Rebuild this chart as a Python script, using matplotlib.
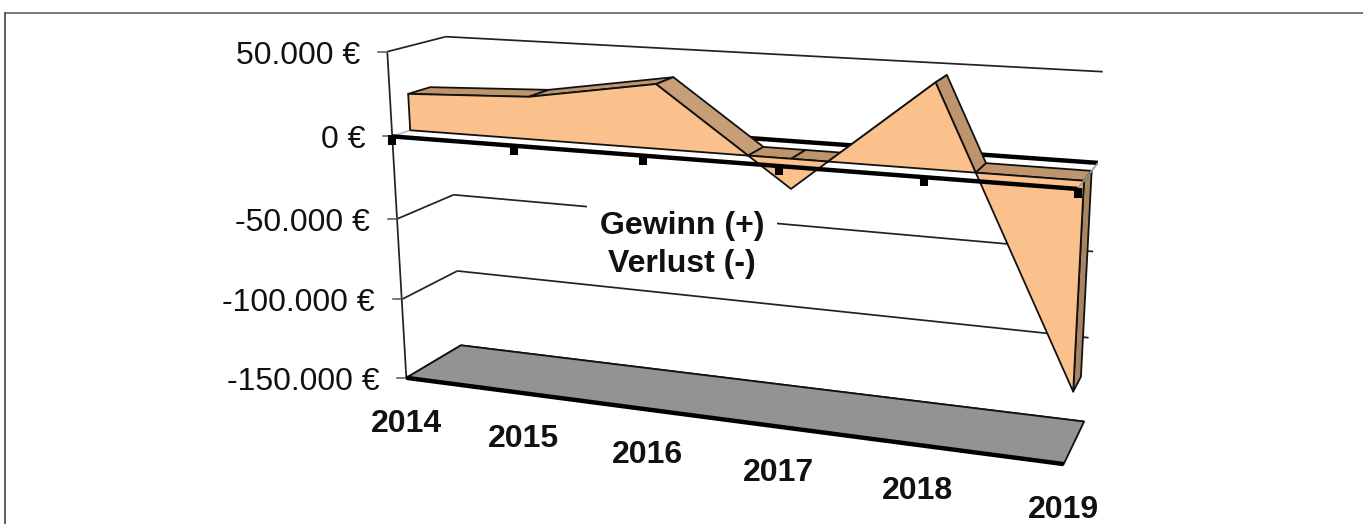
import numpy as np
import matplotlib
matplotlib.use('Agg')
import matplotlib.pyplot as plt

plt.rcParams['font.family'] = ['Liberation Sans', 'DejaVu Sans']

years = ['2014', '2015', '2016', '2017', '2018', '2019']
profit = [22000, 25000, 37000, -17000, 47000, -116000]
value_ticks = [50000, 0, -50000, -100000, -150000]
value_labels = ['50.000 €', '0 €', '-50.000 €', '-100.000 €', '-150.000 €']
title_lines = ['Gewinn (+)', 'Verlust (-)']

# reference points of the 3d box: (year index, value, depth) -> pixel
box_3d = [(0, 50000, 0), (0, 0, 0), (0, -50000, 0), (0, -100000, 0), (0, -150000, 0),
          (1, 0, 0), (2, 0, 0), (3, 0, 0), (4, 0, 0), (5, 0, 0), (5, -150000, 0),
          (0, 50000, 1), (0, -50000, 1), (0, -100000, 1), (0, -150000, 1),
          (5, 50000, 1), (5, 0, 1), (5, -50000, 1), (5, -100000, 1), (5, -150000, 1)]
box_px = [(387, 51), (393, 137), (398, 218), (402, 299), (405, 378),
          (514, 146), (642, 156), (779, 167), (923, 178), (1078, 189), (1065, 463),
          (446, 36), (453, 195), (458, 271), (461, 346),
          (1103, 71), (1098, 163), (1093, 252), (1088, 338), (1084, 421)]

rows, rhs = [], []
for (i, v, d), (px, py) in zip(box_3d, box_px):
    X = [i, v / 50000, d, 1]
    rows.append(X + [0, 0, 0, 0] + [-px * c for c in X[:3]])
    rows.append([0, 0, 0, 0] + X + [-py * c for c in X[:3]])
    rhs += [px, py]
h = np.linalg.lstsq(np.array(rows, float), np.array(rhs, float), rcond=None)[0]
P = np.append(h, 1).reshape(3, 4)


def project(i, v, d):
    p = P @ np.array([i, v / 50000, d, 1])
    return p[0] / p[2], p[1] / p[2]


def poly(ax, pts, color, z):
    xy = [project(*p) for p in pts]
    ax.fill(*zip(*xy), facecolor=color, edgecolor='#111111', lw=1.3, joinstyle='round', zorder=z)


def line(ax, a, b, color='#222222', lw=1.25, z=1):
    pa, pb = project(*a), project(*b)
    ax.plot([pa[0], pb[0]], [pa[1], pb[1]], color=color, lw=lw, zorder=z, solid_capstyle='butt')


fig = plt.figure(figsize=(13.63, 5.24), dpi=100)
ax = fig.add_axes([0, 0, 1, 1])
ax.set_xlim(0, 1363)
ax.set_ylim(524, 0)
ax.axis('off')

# outer frame
ax.plot([5, 1363], [13, 13], color='#707070', lw=1.3, zorder=1)
ax.plot([5, 5], [13, 524], color='#505050', lw=1.3, zorder=1)

# walls and gridlines
line(ax, (0, 50000, 0), (0, -150000, 0))
for v in value_ticks:
    if v == 0:
        continue
    line(ax, (0, v, 0), (0, v, 1))
    line(ax, (0, v, 1), (5, v, 1))
for v, lab in zip(value_ticks, value_labels):
    x0, y0 = project(0, v, 0)
    ax.plot([x0 - 9, x0], [y0, y0], color='#555555', lw=1.1, zorder=1)
    ax.text(x0 - 27, y0 + 4, lab, ha='right', va='center', fontsize=23, color='#111111')

# floor
poly(ax, [(0, -150000, 0), (5, -150000, 0), (5, -150000, 1), (0, -150000, 1)], '#939393', 2)
line(ax, (0, -150000, 0), (5, -150000, 0), color='black', lw=3.2, z=3)

# zero plane
line(ax, (0, 0, 1), (5, 0, 1), color='black', lw=3.2, z=2)
line(ax, (0, 0, 0), (0, 0, 1), color='#bbbbbb', lw=1.2, z=2)
line(ax, (5, 0, 0), (5, 0, 1), color='#999999', lw=1.2, z=6)

# area solid, split where the line crosses zero
d1, d2 = 0.3, 0.68
idx = []
val = []
for n, p in enumerate(profit):
    idx.append(n)
    val.append(p)
    if n < len(profit) - 1 and p * profit[n + 1] < 0:
        idx.append(n + p / (p - profit[n + 1]))
        val.append(0)

flat = '#BE946C'
slope = '#C89E76'
for k in range(len(idx) - 1):
    a, b = idx[k], idx[k + 1]
    va, vb = max(val[k], 0), max(val[k + 1], 0)
    c = slope if vb < va and vb == 0 and a < 3 else flat
    poly(ax, [(a, va, d1), (b, vb, d1), (b, vb, d2), (a, va, d2)], c, 4 + k * 0.01)

# end face of the last year
poly(ax, [(5, 0, d1), (5, 0, d2), (5, profit[-1], d2), (5, profit[-1], d1)], '#A88560', 4.5)

front = [(0, 0, d1)] + [(i, v, d1) for i, v in zip(idx, val)] + [(5, 0, d1)]
poly(ax, front, '#FBC18D', 5)

# front axis with tick marks
line(ax, (0, 0, 0), (5, 0, 0), color='black', lw=3.2, z=7)
for n, yr in enumerate(years):
    x0, y0 = project(n, 0, 0)
    ax.plot([x0, x0], [y0 - 1, y0 + 9], color='black', lw=5.8, zorder=7, solid_capstyle='butt')
    xb, yb = project(n, -150000, 0)
    ax.text(xb, yb + 46, yr, ha='center', va='center', fontsize=23, fontweight='bold', color='#111111')

# only the first line needs the white patch, it sits on the -50.000 gridline
ax.text(682, 226, title_lines[0], ha='center', va='center', fontsize=23, fontweight='bold', color='#111111',
        zorder=3, bbox=dict(facecolor='white', edgecolor='none', pad=9))
ax.text(682, 264, title_lines[1], ha='center', va='center', fontsize=23, fontweight='bold', color='#111111',
        zorder=3)

fig.savefig('out.png', dpi=100)
